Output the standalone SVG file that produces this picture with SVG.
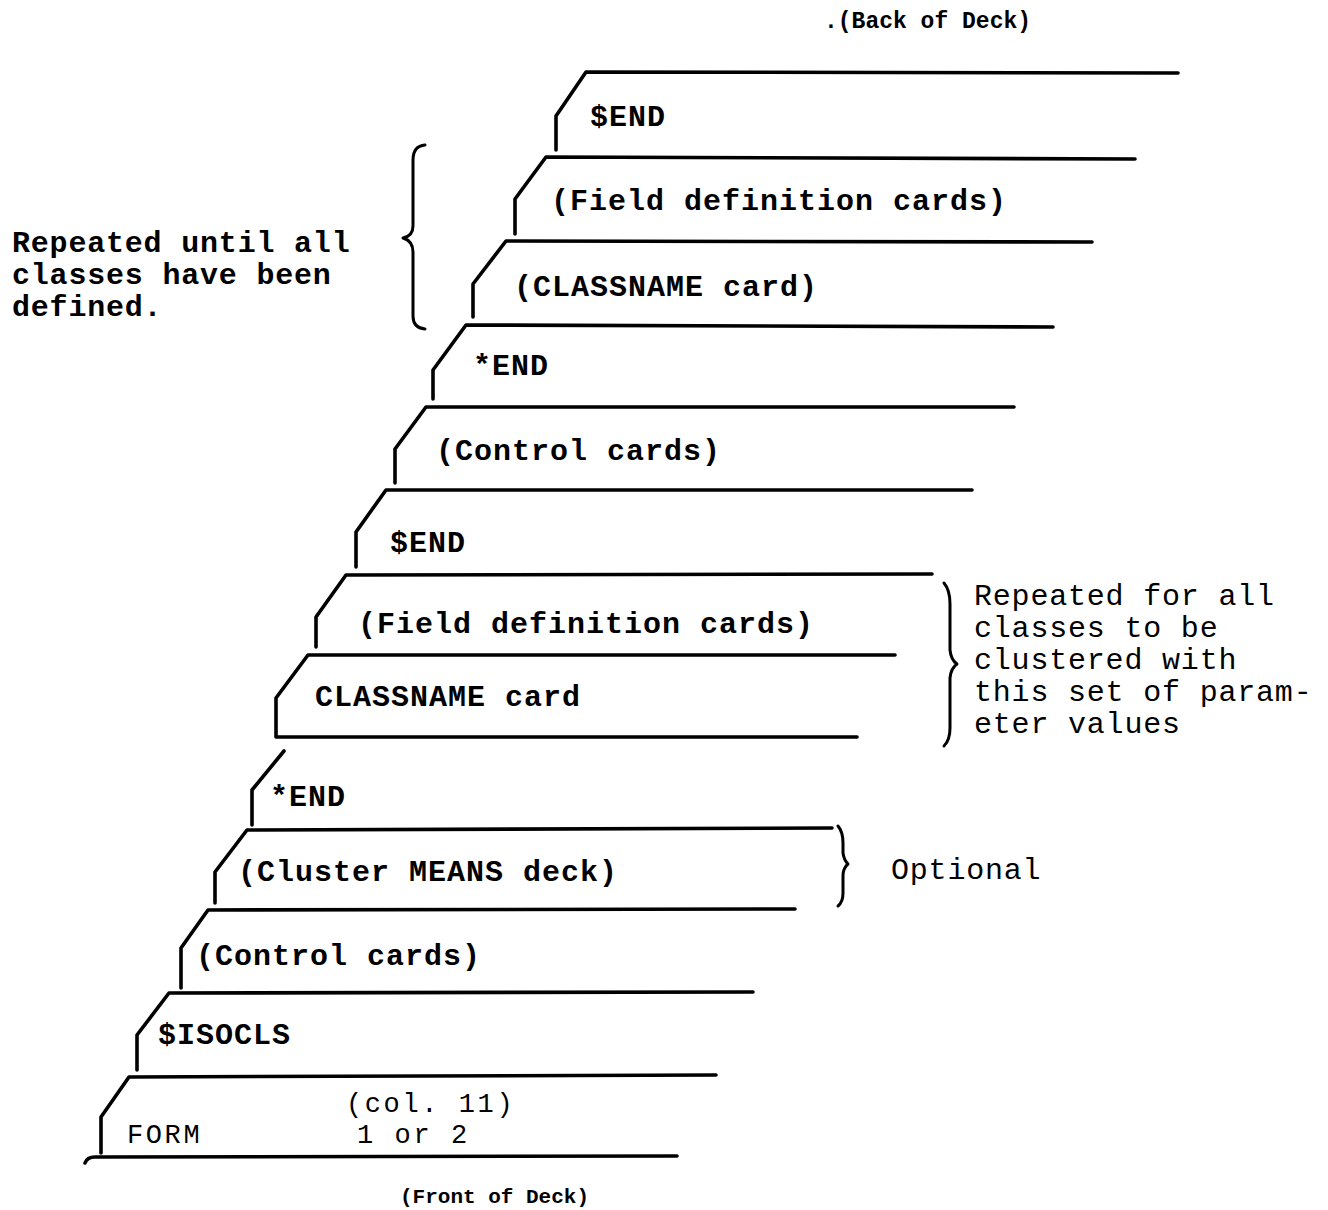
<svg xmlns="http://www.w3.org/2000/svg" width="1328" height="1210" viewBox="0 0 1328 1210">
<style>
.card{fill:none;stroke:#000;stroke-width:3.6;stroke-linecap:round;stroke-linejoin:round}
.brace{fill:none;stroke:#000;stroke-width:3;stroke-linecap:round;stroke-linejoin:round}
.lbl{font-family:"Liberation Mono","Courier New",monospace;font-size:30px;font-weight:bold;letter-spacing:1px;fill:#000}
.col{font-family:"Liberation Mono","Courier New",monospace;font-size:27px;letter-spacing:2.6px;fill:#000}
.note{font-family:"Liberation Mono","Courier New",monospace;font-size:30px;letter-spacing:0.8px;fill:#000}
.noteb{font-family:"Liberation Mono","Courier New",monospace;font-size:30px;font-weight:bold;letter-spacing:0.8px;fill:#000}
.small{font-family:"Liberation Mono","Courier New",monospace;font-weight:bold;fill:#000}
</style>
<rect width="1328" height="1210" fill="#fff"/>
<text class="small" x="824" y="28" font-size="23">.(Back of Deck)</text>
<g id="card-send-top">
<path class="card" d="M1178,73 L586,72 L556,116 L556,150"/>
<text class="lbl" x="590" y="126">$END</text>
</g>
<g id="card-fielddef-top">
<path class="card" d="M1135,159 L546,157 L515,199 L515,234"/>
<text class="lbl" x="551" y="210">(Field definition cards)</text>
</g>
<g id="card-classname-top">
<path class="card" d="M1092,242 L506,241 L473,284 L473,317"/>
<text class="lbl" x="514" y="296">(CLASSNAME card)</text>
</g>
<g id="card-starend-top">
<path class="card" d="M1053,327 L466,325 L433,370 L433,399"/>
<text class="lbl" x="473" y="375">*END</text>
</g>
<g id="card-control-top">
<path class="card" d="M1014,407 L426,407 L395,449 L395,483"/>
<text class="lbl" x="436" y="460">(Control cards)</text>
</g>
<g id="card-send-mid">
<path class="card" d="M972,490 L386,490 L356,532 L356,567"/>
<text class="lbl" x="390" y="552">$END</text>
</g>
<g id="card-fielddef-mid">
<path class="card" d="M932,574 L346,575 L316,617 L316,647"/>
<text class="lbl" x="358" y="633">(Field definition cards)</text>
</g>
<g id="card-classname-mid">
<path class="card" d="M895,655 L308,655 L276,698 L276,737 L857,737"/>
<text class="lbl" x="315" y="706">CLASSNAME card</text>
</g>
<g id="card-starend-low">
<path class="card" d="M284,751 L252,790 L252,825"/>
<text class="lbl" x="270" y="806">*END</text>
</g>
<g id="card-cluster-means">
<path class="card" d="M832,828 L247,830 L215,872 L215,903"/>
<text class="lbl" x="238" y="881">(Cluster MEANS deck)</text>
</g>
<g id="card-control-low">
<path class="card" d="M795,909 L208,910 L181,948 L181,988"/>
<text class="lbl" x="196" y="965">(Control cards)</text>
</g>
<g id="card-isocls">
<path class="card" d="M753,992 L169,993 L137,1035 L137,1070"/>
<text class="lbl" x="158" y="1044">$ISOCLS</text>
</g>
<g id="card-form">
<path class="card" d="M716,1075 L129,1077 L101,1117 L101,1153"/>
<path class="card" d="M85,1163 Q87,1157 95,1157 L677,1156"/>
<text class="col" x="127" y="1143">FORM</text>
<text class="col" x="346" y="1112">(col. 11)</text>
<text class="col" x="357" y="1143">1 or 2</text>
</g>
<text class="small" x="400" y="1203" font-size="21">(Front of Deck)</text>
<g id="connectors">
<path class="brace" d="M425,145 Q413,146 413,160 L413,226 Q413,236 403,238 Q413,241 413,252 L413,316 Q413,328 425,329"/>
<path class="brace" d="M944,583 Q950,590 950,604 L950,650 Q951,660 957,664 Q951,668 950,678 L950,728 Q950,740 944,746"/>
<path class="brace" d="M838,826 Q843,832 843,843 L843,853 Q844,860 848,864 Q843,868 843,876 L843,893 Q843,902 838,906"/>
</g>
<g id="annotations">
<text class="noteb" x="12" y="252">Repeated until all</text>
<text class="noteb" x="12" y="284">classes have been</text>
<text class="noteb" x="12" y="316">defined.</text>
<text class="note" x="974" y="605">Repeated for all</text>
<text class="note" x="974" y="637">classes to be</text>
<text class="note" x="974" y="669">clustered with</text>
<text class="note" x="974" y="701">this set of param-</text>
<text class="note" x="974" y="733">eter values</text>
<text class="note" x="891" y="879">Optional</text>
</g>
</svg>
